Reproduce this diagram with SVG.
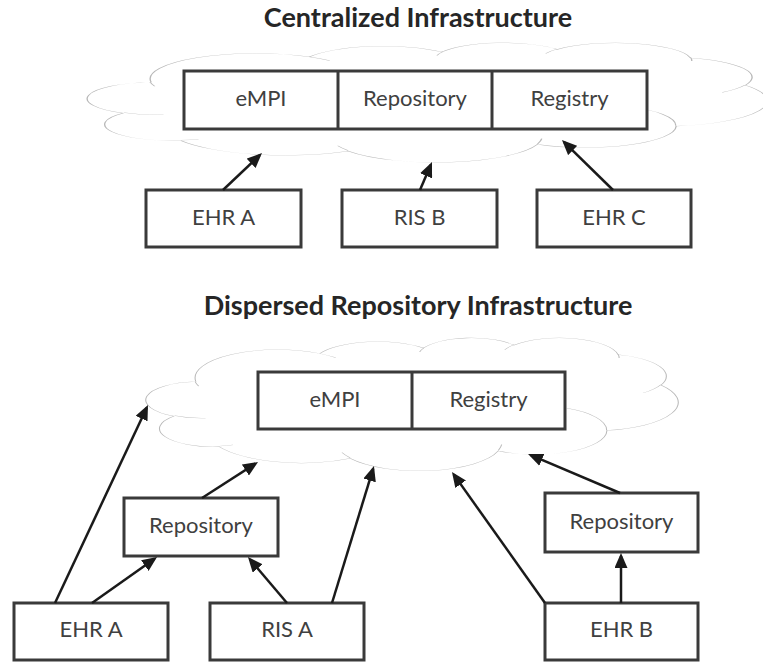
<svg xmlns="http://www.w3.org/2000/svg" width="763" height="662" viewBox="0 0 763 662">
  <defs>
    <style>
      .title { font-family: Lato, "Open Sans", "Liberation Sans", sans-serif; font-weight: bold; font-size: 27px; fill: #262626; text-anchor: middle; }
      .label { font-family: Lato, "Open Sans", "Liberation Sans", sans-serif; font-size: 22px; fill: #404040; text-anchor: middle; }
      .box { fill: #ffffff; stroke: #3a3a3a; stroke-width: 3; }
      .div { stroke: #3a3a3a; stroke-width: 3; }
      .cloud { fill: #ffffff; stroke: #b8b8b8; stroke-width: 2; vector-effect: non-scaling-stroke; }
      .cloud-in { fill: none; stroke: #b8b8b8; stroke-width: 2; vector-effect: non-scaling-stroke; }
      .arrow { stroke: #1a1a1a; stroke-width: 2.5; fill: none; marker-end: url(#head); }
    </style>
    <marker id="head" markerUnits="userSpaceOnUse" markerWidth="15" markerHeight="13" viewBox="0 0 15 13" refX="12" refY="6.5" orient="auto">
      <path d="M0,0 L15,6.5 L0,13 z" fill="#1a1a1a"/>
    </marker>
    <!-- cloud outline in a 1000 x 1000 unit box -->
    <path id="cloud-outline" d="M90.28 332.64 A156.32 212.73 0 0 1 324.21 120.43 A123.45 168.22 0 0 1 519.83 79.38 A101.04 137.62 0 0 1 690.60 57.35 A112.43 152.66 0 0 1 887.02 128.98 A123.45 168.36 0 0 1 968.05 357.77 A156.83 213.43 0 0 1 865.87 699.05 A133.91 182.11 0 0 1 661.04 852.05 A156.30 213.31 0 0 1 381.53 908.83 A178.70 244.05 0 0 1 134.37 820.96 A100.93 136.99 0 0 1 48.90 591.32 A100.58 137.62 0 0 1 90.28 332.64 Z"/>
    <!-- inner folds of the cloud lobes -->
    <path id="cloud-folds" d="M108.63 605.95 A100.58 137.62 0 0 1 49.99 587.49 M160.37 807.85 A100.93 136.99 0 0 1 134.69 816.69 M381.44 904.86 A156.30 213.31 0 0 1 365.97 864.55 M667.29 804.42 A156.30 213.31 0 0 1 661.12 848.60 M790.02 531.34 A133.91 182.11 0 0 1 865.29 696.52 M967.55 355.42 A123.45 168.36 0 0 1 934.00 417.40 M887.13 125.60 A112.43 152.66 0 0 1 888.90 154.85 M673.10 91.48 A112.43 152.66 0 0 1 690.26 54.18 M512.52 109.26 A101.04 137.62 0 0 1 520.84 77.11 M324.07 120.19 A156.32 212.73 0 0 1 354.15 151.39 M95.53 365.49 A156.32 212.73 0 0 1 88.98 332.47"/>
  </defs>

  <rect width="763" height="662" fill="#ffffff"/>

  <!-- ===== Centralized Infrastructure ===== -->
  <text class="title" x="418" y="27">Centralized Infrastructure</text>

  <g id="central-cloud">
    <g transform="translate(90 42.5) scale(0.677 0.1195)">
      <use href="#cloud-outline" class="cloud"/>
      <use href="#cloud-folds" class="cloud-in"/>
    </g>
  </g>

  <g id="central-services">
    <rect class="box" x="184" y="71" width="463" height="58"/>
    <line class="div" x1="338" y1="71" x2="338" y2="129"/>
    <line class="div" x1="492" y1="71" x2="492" y2="129"/>
    <text class="label" x="261" y="106">eMPI</text>
    <text class="label" x="415" y="106">Repository</text>
    <text class="label" x="569.5" y="106">Registry</text>
  </g>

  <g id="c-ehr-a">
    <rect class="box" x="146" y="190" width="155" height="57"/>
    <text class="label" x="223.5" y="225">EHR A</text>
  </g>
  <g id="c-ris-b">
    <rect class="box" x="342" y="190" width="155" height="57"/>
    <text class="label" x="419.5" y="225">RIS B</text>
  </g>
  <g id="c-ehr-c">
    <rect class="box" x="537" y="190" width="154" height="57"/>
    <text class="label" x="614" y="225">EHR C</text>
  </g>

  <g id="central-connectors">
    <line class="arrow" x1="223" y1="190" x2="259.8" y2="155.1"/>
    <line class="arrow" x1="420" y1="190" x2="430.8" y2="164.8"/>
    <line class="arrow" x1="613" y1="190" x2="564.1" y2="142.1"/>
  </g>

  <!-- ===== Dispersed Repository Infrastructure ===== -->
  <text class="title" x="418" y="315">Dispersed Repository Infrastructure</text>

  <g id="dispersed-cloud">
    <g transform="translate(148 337.5) scale(0.530 0.133)">
      <use href="#cloud-outline" class="cloud"/>
      <use href="#cloud-folds" class="cloud-in"/>
    </g>
  </g>

  <g id="dispersed-services">
    <rect class="box" x="258" y="372" width="307" height="57"/>
    <line class="div" x1="412" y1="372" x2="412" y2="429"/>
    <text class="label" x="335" y="407">eMPI</text>
    <text class="label" x="488.5" y="407">Registry</text>
  </g>

  <g id="d-repository-1">
    <rect class="box" x="124" y="498" width="154" height="58"/>
    <text class="label" x="201" y="533">Repository</text>
  </g>
  <g id="d-repository-2">
    <rect class="box" x="545" y="493" width="153" height="59"/>
    <text class="label" x="621.5" y="529">Repository</text>
  </g>
  <g id="d-ehr-a">
    <rect class="box" x="14" y="603" width="154" height="57"/>
    <text class="label" x="91" y="637">EHR A</text>
  </g>
  <g id="d-ris-a">
    <rect class="box" x="210" y="603" width="154" height="57"/>
    <text class="label" x="287" y="637">RIS A</text>
  </g>
  <g id="d-ehr-b">
    <rect class="box" x="545" y="603" width="153" height="57"/>
    <text class="label" x="621.5" y="637">EHR B</text>
  </g>

  <g id="dispersed-connectors">
    <line class="arrow" x1="55" y1="603" x2="146.7" y2="407.7"/>
    <line class="arrow" x1="92" y1="603" x2="154.6" y2="558.7"/>
    <line class="arrow" x1="202" y1="498" x2="255.5" y2="463.6"/>
    <line class="arrow" x1="287" y1="603" x2="249.9" y2="559.3"/>
    <line class="arrow" x1="332" y1="603" x2="373.1" y2="468.9"/>
    <line class="arrow" x1="545" y1="603" x2="453.7" y2="474.4"/>
    <line class="arrow" x1="620" y1="493" x2="530.8" y2="455.2"/>
    <line class="arrow" x1="621" y1="603" x2="621" y2="556"/>
  </g>
</svg>
